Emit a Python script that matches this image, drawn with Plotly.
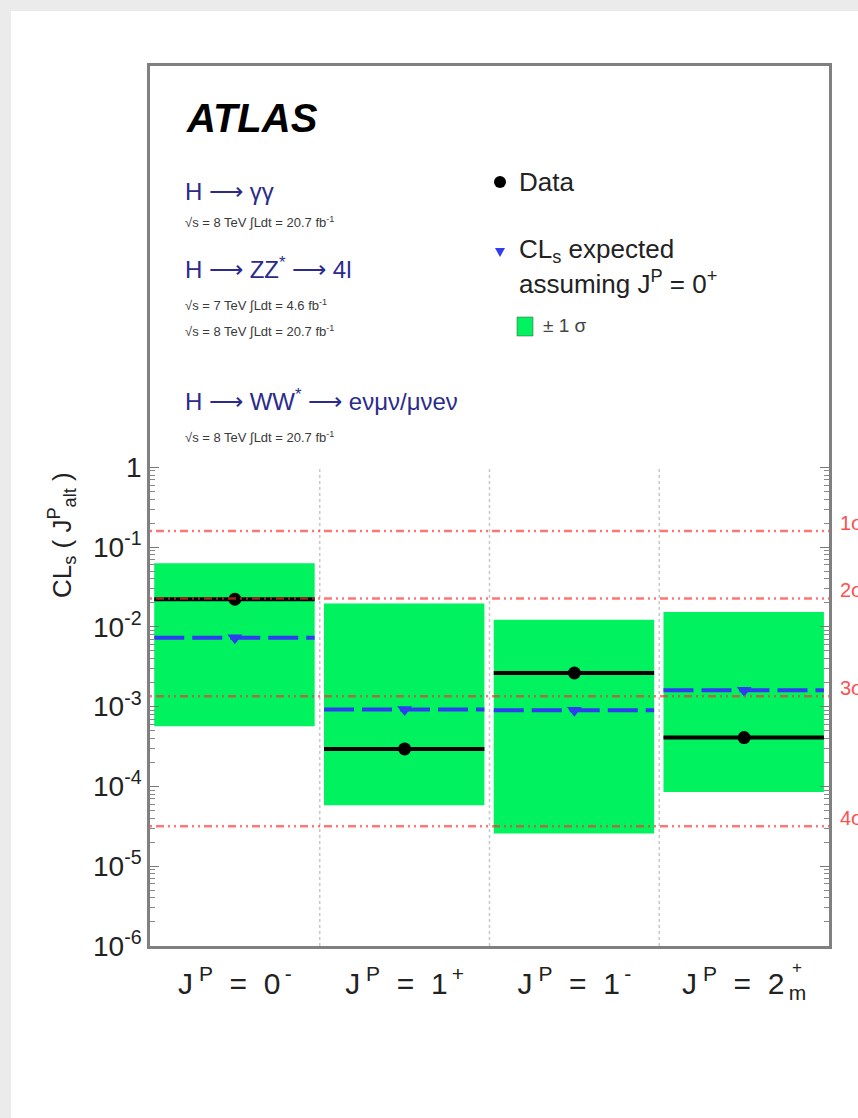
import numpy as np
import plotly.graph_objects as go

# ---------------- data ----------------
NB = "\u00a0"
categories = [f"J<sup> P</sup>{NB} ={NB} 0<sup>\u2009-</sup>",
              f"J<sup> P</sup>{NB} ={NB} 1<sup>\u2009+</sup>",
              f"J<sup> P</sup>{NB} ={NB} 1<sup>\u2009-</sup>",
              f"J<sup> P</sup>{NB} ={NB} 2<sub>\u2009m</sub>"]
cls_observed = [0.0222, 2.95e-4, 2.64e-3, 4.1e-4]
cls_expected = [7.3e-3, 9.2e-4, 9.0e-4, 1.6e-3]
band_low = [5.7e-4, 5.8e-5, 2.57e-5, 8.5e-5]
band_high = [0.0627, 0.0196, 0.0123, 0.0154]
sigma_labels = ["1σ", "2σ", "3σ", "4σ"]
sigma_pvalues = [0.1587, 0.02275, 0.00135, 3.17e-5]
ytick_vals = [1e-6, 1e-5, 1e-4, 1e-3, 1e-2, 1e-1, 1]
ytick_text = ["10<sup>-6</sup>", "10<sup>-5</sup>", "10<sup>-4</sup>", "10<sup>-3</sup>",
              "10<sup>-2</sup>", "10<sup>-1</sup>", "1"]

FONT = "Liberation Sans, Arial, Helvetica, sans-serif"
W, H = 858, 1118
L, R, T, B = 150, 829, 66, 946


def px(xp):
    return (xp - L) / (R - L)


def py(yp):
    return (B - yp) / (B - T)


n = len(categories)
fig = go.Figure()

# vertical dotted separators
for b in range(1, n):
    fig.add_trace(go.Scatter(x=[b, b], y=[ytick_vals[0], ytick_vals[-1]], mode="lines",
                             line=dict(color="#c8c8c8", width=1.5, dash="dot"),
                             hoverinfo="skip", showlegend=False))

# green +-1 sigma boxes
for i in range(n):
    x0, x1 = i + 0.025, i + 0.97
    fig.add_trace(go.Scatter(x=[x0, x1, x1, x0, x0],
                             y=[band_low[i], band_low[i], band_high[i], band_high[i], band_low[i]],
                             mode="lines", fill="toself", fillcolor="#00f25f",
                             line=dict(width=0, color="#00f25f"), hoverinfo="skip", showlegend=False))

# expected (blue dashed)
for i in range(n):
    x0, x1 = i + 0.025, i + 0.97
    fig.add_trace(go.Scatter(x=[x0, x1], y=[cls_expected[i]] * 2, mode="lines",
                             line=dict(color="#2f3cf0", width=4, dash="30px,8px"),
                             hoverinfo="skip", showlegend=False))
fig.add_trace(go.Scatter(x=[i + 0.5 for i in range(n)], y=cls_expected, mode="markers",
                         marker=dict(symbol="triangle-down", size=13, color="#2f3cf0"),
                         showlegend=False))

# observed (black)
for i in range(n):
    x0, x1 = i + 0.025, i + 0.97
    fig.add_trace(go.Scatter(x=[x0, x1], y=[cls_observed[i]] * 2, mode="lines",
                             line=dict(color="black", width=4),
                             hoverinfo="skip", showlegend=False))
fig.add_trace(go.Scatter(x=[i + 0.5 for i in range(n)], y=cls_observed, mode="markers",
                         marker=dict(symbol="circle", size=13, color="black"),
                         showlegend=False))

# sigma reference lines
for p in sigma_pvalues:
    fig.add_trace(go.Scatter(x=[0, n], y=[p, p], mode="lines",
                             line=dict(color="rgba(255,45,45,0.65)", width=2.5,
                                       dash="2px,4px,8px,4px,2px,4px"),
                             hoverinfo="skip", showlegend=False))

ann = []
for lab, p in zip(sigma_labels, sigma_pvalues):
    ann.append(dict(x=px(838), xref="paper", y=np.log10(p), yref="y", text=lab,
                    xanchor="left", yanchor="middle", yshift=8, showarrow=False,
                    font=dict(family=FONT, size=20, color="#ff5050")))

# '+' superscript stacked above the 'm' subscript of the last category label
ann.append(dict(x=3.5, xref="x", y=py(968), yref="paper", yanchor="middle", text="+",
                showarrow=False, xshift=53, font=dict(family=FONT, size=17, color="#222")))

# y title
ann.append(dict(x=px(62), y=py(535), xref="paper", yref="paper", xanchor="center",
                yanchor="middle",
                text="CL<sub>s</sub> ( J<sup>P</sup><sub>alt</sub> )", textangle=-90,
                showarrow=False, font=dict(family=FONT, size=26, color="#222")))

# header texts
BLUE = "#2b2b8c"
GREY = "#3a3a3a"
ann.append(dict(x=px(184), y=py(118), xref="paper", yref="paper", xanchor="left", yanchor="middle",
                text="<b><i>ATLAS</i></b>", showarrow=False,
                font=dict(family=FONT, size=40, color="black")))
head = [("H ⟶ γγ", 191, BLUE, 24),
        ("√s = 8 TeV ∫Ldt = 20.7 fb<sup>-1</sup>", 222, GREY, 13),
        ("H ⟶ ZZ<sup>*</sup> ⟶ 4l", 268, BLUE, 24),
        ("√s = 7 TeV ∫Ldt = 4.6 fb<sup>-1</sup>", 305, GREY, 13),
        ("√s = 8 TeV ∫Ldt = 20.7 fb<sup>-1</sup>", 331, GREY, 13),
        ("H ⟶ WW<sup>*</sup> ⟶ eνμν/μνeν", 400, BLUE, 24),
        ("√s = 8 TeV ∫Ldt = 20.7 fb<sup>-1</sup>", 437, GREY, 13)]
for txt, yy, col, sz in head:
    ann.append(dict(x=px(183), y=py(yy), xref="paper", yref="paper", xanchor="left",
                    yanchor="middle", text=txt, showarrow=False,
                    font=dict(family=FONT, size=sz, color=col)))

# legend texts
for txt, yy, sz in [("Data", 182, 26), ("CL<sub>s</sub> expected", 250, 26),
                    ("assuming J<sup>P</sup> = 0<sup>+</sup>", 282, 26)]:
    ann.append(dict(x=px(517), y=py(yy), xref="paper", yref="paper", xanchor="left",
                    yanchor="middle", text=txt, showarrow=False,
                    font=dict(family=FONT, size=sz, color="#222")))
ann.append(dict(x=px(541), y=py(326), xref="paper", yref="paper", xanchor="left",
                yanchor="middle", text="± 1 σ", showarrow=False,
                font=dict(family=FONT, size=19, color="#444")))

shapes = [
    # legend symbols
    dict(type="circle", xref="paper", yref="paper", x0=px(494), x1=px(506), y0=py(188), y1=py(176),
         fillcolor="black", line=dict(width=0)),
    dict(type="path", xref="paper", yref="paper",
         path=f"M {px(495)},{py(248)} L {px(505)},{py(248)} L {px(500)},{py(257)} Z",
         fillcolor="#2f3cf0", line=dict(width=0)),
    dict(type="rect", xref="paper", yref="paper", x0=px(517), x1=px(533), y0=py(336), y1=py(317),
         fillcolor="#00f25f", line=dict(width=0.5, color="#444")),
    # grey page border strips
    dict(type="rect", xref="paper", yref="paper", x0=px(0), x1=px(11), y0=py(H), y1=py(0),
         fillcolor="#ebebeb", line=dict(width=0), layer="below"),
    dict(type="rect", xref="paper", yref="paper", x0=px(0), x1=px(W), y0=py(11), y1=py(0),
         fillcolor="#ebebeb", line=dict(width=0), layer="below"),
]

minor_vals = [m * 10.0 ** e for e in range(-6, 0) for m in range(2, 10)]

fig.update_layout(
    width=W, height=H,
    margin=dict(l=L, r=W - R, t=T, b=H - B),
    paper_bgcolor="white", plot_bgcolor="white",
    showlegend=False,
    annotations=ann, shapes=shapes,
    xaxis=dict(range=[0, n], tickmode="array", tickvals=[i + 0.5 for i in range(n)],
               ticktext=categories, ticks="", showgrid=False, zeroline=False,
               showline=True, mirror=True, linecolor="#808080", linewidth=2.5,
               ticklabelstandoff=9,
               tickfont=dict(family=FONT, size=30, color="#222")),
    yaxis=dict(type="log", range=[-6, 5.03], tickmode="array", tickvals=ytick_vals,
               ticktext=ytick_text, ticks="inside", ticklen=9, tickwidth=1.2, tickcolor="#777",
               minor=dict(tickmode="array", tickvals=minor_vals, ticks="inside", ticklen=5,
                          tickcolor="#888", tickwidth=1),
               showgrid=False, zeroline=False, showline=True, mirror="ticks",
               linecolor="#808080", linewidth=2.5,
               tickfont=dict(family=FONT, size=28, color="#222")),
)

fig.write_html("out.html", config={"displayModeBar": False},
               post_script="document.body.style.margin='0px';")
